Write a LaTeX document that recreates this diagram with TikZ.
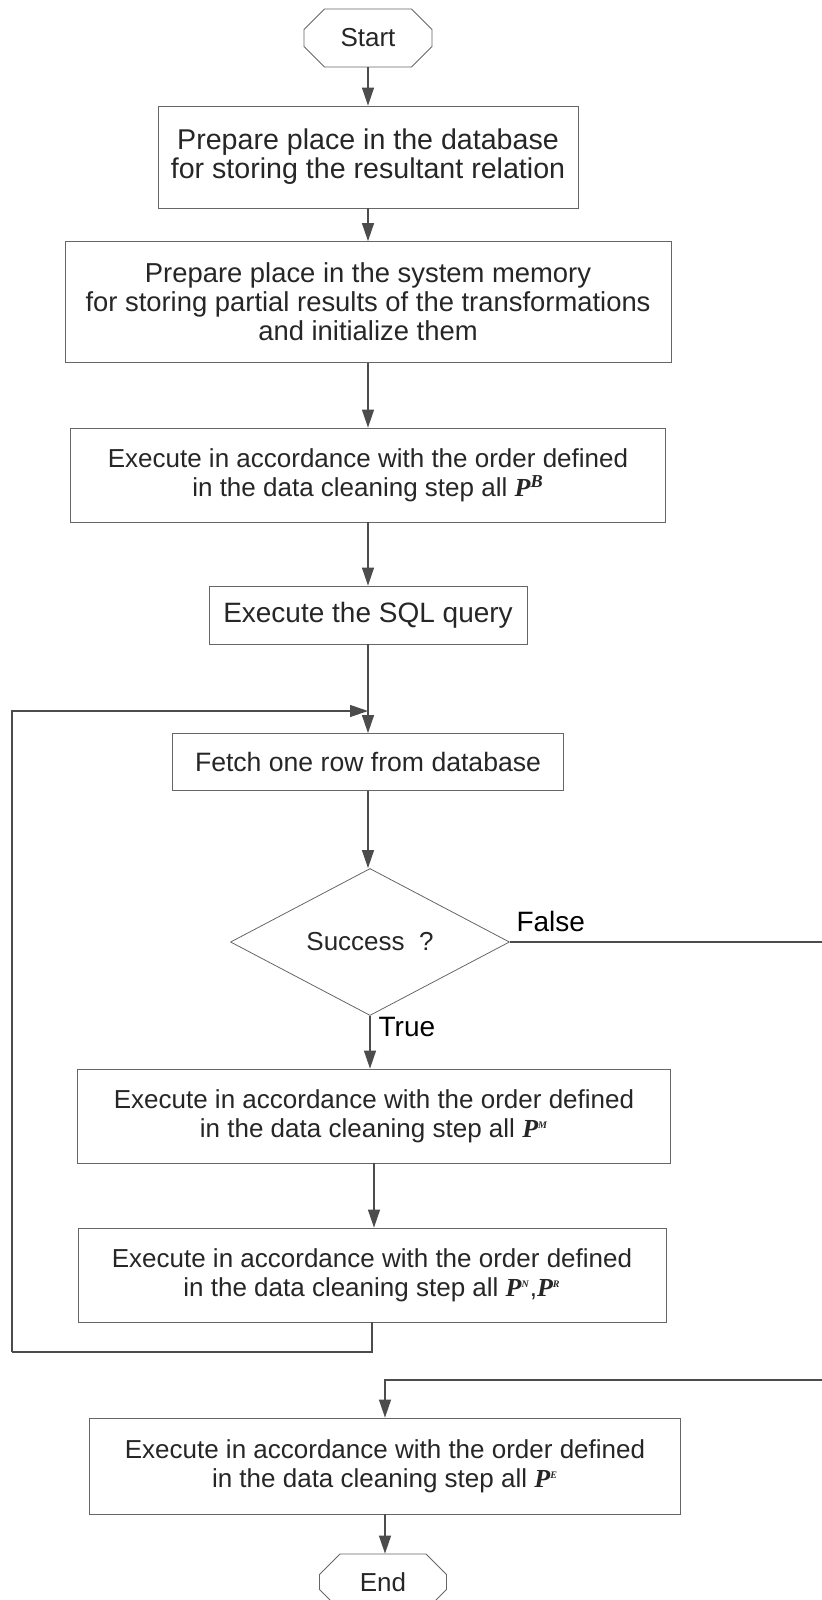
\documentclass[tikz,border=0pt]{standalone}
\usepackage{fontspec}
\setmainfont{Liberation Sans}
\newfontfamily\pfont{Liberation Serif}
\usetikzlibrary{arrows.meta,shapes.geometric,shapes.misc}

\newcommand{\PB}{{\pfont\bfseries\itshape P\textsuperscript{B}}}
\newcommand{\Psm}[1]{{\pfont\bfseries\itshape P\textsuperscript{\tiny #1}}}
\newcommand{\fs}[1]{\fontsize{#1}{14.5}\selectfont}

\begin{document}
\begin{tikzpicture}[
    x=0.5pt, y=-0.5pt,
    >={Triangle[length=9pt,width=6pt]},
    font=\fs{13},
    process/.style={
      rectangle,
      draw=black!60,
      text=black!85,
      inner sep=0pt,
      align=center
    },
    decision/.style={
      diamond,
      draw=black!60,
      text=black!85,
      aspect=1.9,
      inner sep=0pt
    },
    terminal/.style={
      chamfered rectangle,
      chamfered rectangle xsep=2.75pt,
      chamfered rectangle ysep=7.5pt,
      draw=black!60,
      text=black!85,
      inner sep=0pt
    },
    flow/.style={
      draw=black!70,
      line width=0.6pt
    },
  ]
  \useasboundingbox (0,0) rectangle (821,1600);

  %%%%%%%%%%%%%%%%%%%%%%%%%%%%%%%%%%%%%%%%%%%%%%
  %%%%%%%%%%%%%%%% ACTUAL NODES %%%%%%%%%%%%%%%%%%%
  %%%%%%%%%%%%%%%%%%%%%%%%%%%%%%%%%%%%%%%%%%%%%%
    \node[terminal, minimum width=64pt, minimum height=29pt] (start) at (368,38) {Start};

    \node[process, font=\fs{14.3}, minimum width=210pt, minimum height=51pt] (prepDB) at (368,157)
      {Prepare place in the database\\for storing the resultant relation};

    \node[process, font=\fs{13.7}, minimum width=303pt, minimum height=60.5pt] (prepMem) at (368,302)
      {Prepare place in the system memory\\for storing partial results of the transformations\\and initialize them};

    \node[process, minimum width=297.5pt, minimum height=47pt] (execB) at (368,475)
      {Execute in accordance with the order defined\\in the data cleaning step all \PB};

    \node[process, font=\fs{14}, minimum width=159pt, minimum height=29pt] (sql) at (368,615) {Execute the SQL query};

    \node[process, font=\fs{13.3}, minimum width=195.5pt, minimum height=28.5pt] (fetch) at (368,762) {Fetch one row from database};

    \node[decision, minimum width=139.5pt, minimum height=73.5pt] (success) at (370,942) {Success\ \ ?};

    \node[process, minimum width=296.5pt, minimum height=47pt] (execM) at (374,1116)
      {Execute in accordance with the order defined\\in the data cleaning step all \Psm{M}};

    \node[process, minimum width=294pt, minimum height=47pt] (execNR) at (372,1275)
      {Execute in accordance with the order defined\\in the data cleaning step all \Psm{N},\Psm{R}};

    \node[process, minimum width=295.5pt, minimum height=48pt] (execE) at (385,1466)
      {Execute in accordance with the order defined\\in the data cleaning step all \Psm{E}};

    \node[terminal, minimum width=63.5pt, minimum height=28pt] (end) at (383,1582) {End};

  %%%%%%%%%%%%%%%%%%%%%%%%%%%%%%%%%%%%%%%%%%%%%%
  %%%%%%%%%%%%%%%% HELPING NODES %%%%%%%%%%%%%%%%%%%
  %%%%%%%%%%%%%%%%%%%%%%%%%%%%%%%%%%%%%%%%%%%%%%
    \coordinate (loop-join) at (368,711);
    \coordinate (loop-left) at (12,1352);
    \coordinate (false-right) at (823,1380);

  %%%%%%%%%%%%%%%%%%%%%%%%%%%%%%%%%%%%%%%%%%%%%%
  %%%%%%%%%%%%%%%%%% PATHS %%%%%%%%%%%%%%%%%%%%%%%
  %%%%%%%%%%%%%%%%%%%%%%%%%%%%%%%%%%%%%%%%%%%%%%
    \path [->, flow] (start.south) -- (start.south |- prepDB.north);
    \path [->, flow] (prepDB) -- (prepMem);
    \path [->, flow] (prepMem) -- (execB);
    \path [->, flow] (execB) -- (sql);
    \path [-, flow] (sql) -- (loop-join);
    \path [->, flow] (loop-join) -- (fetch);
    \path [->, flow] (fetch.south) -- (fetch.south |- success.north);

    \path [->, flow] (success.south) -- (success.south |- execM.north)
      node[pos=0, anchor=north west, xshift=4pt, yshift=-0.5pt, font=\fs{14}, inner sep=0pt] {True};
    \path [->, flow] (execM.south) -- (execM.south |- execNR.north);

    \path [-, flow] (execNR.south) |- (loop-left);
    \path [->, flow] (loop-left) |- (loop-join);

    \path [-, flow] (success.east) -| (false-right)
      node[pos=0, anchor=south west, xshift=3pt, yshift=5pt, font=\fs{14}, inner sep=0pt] {False};
    \path [->, flow] (false-right) -| (execE.north);

    \path [->, flow] (execE.south) -- (execE.south |- end.north);

  \end{tikzpicture}
\end{document}
